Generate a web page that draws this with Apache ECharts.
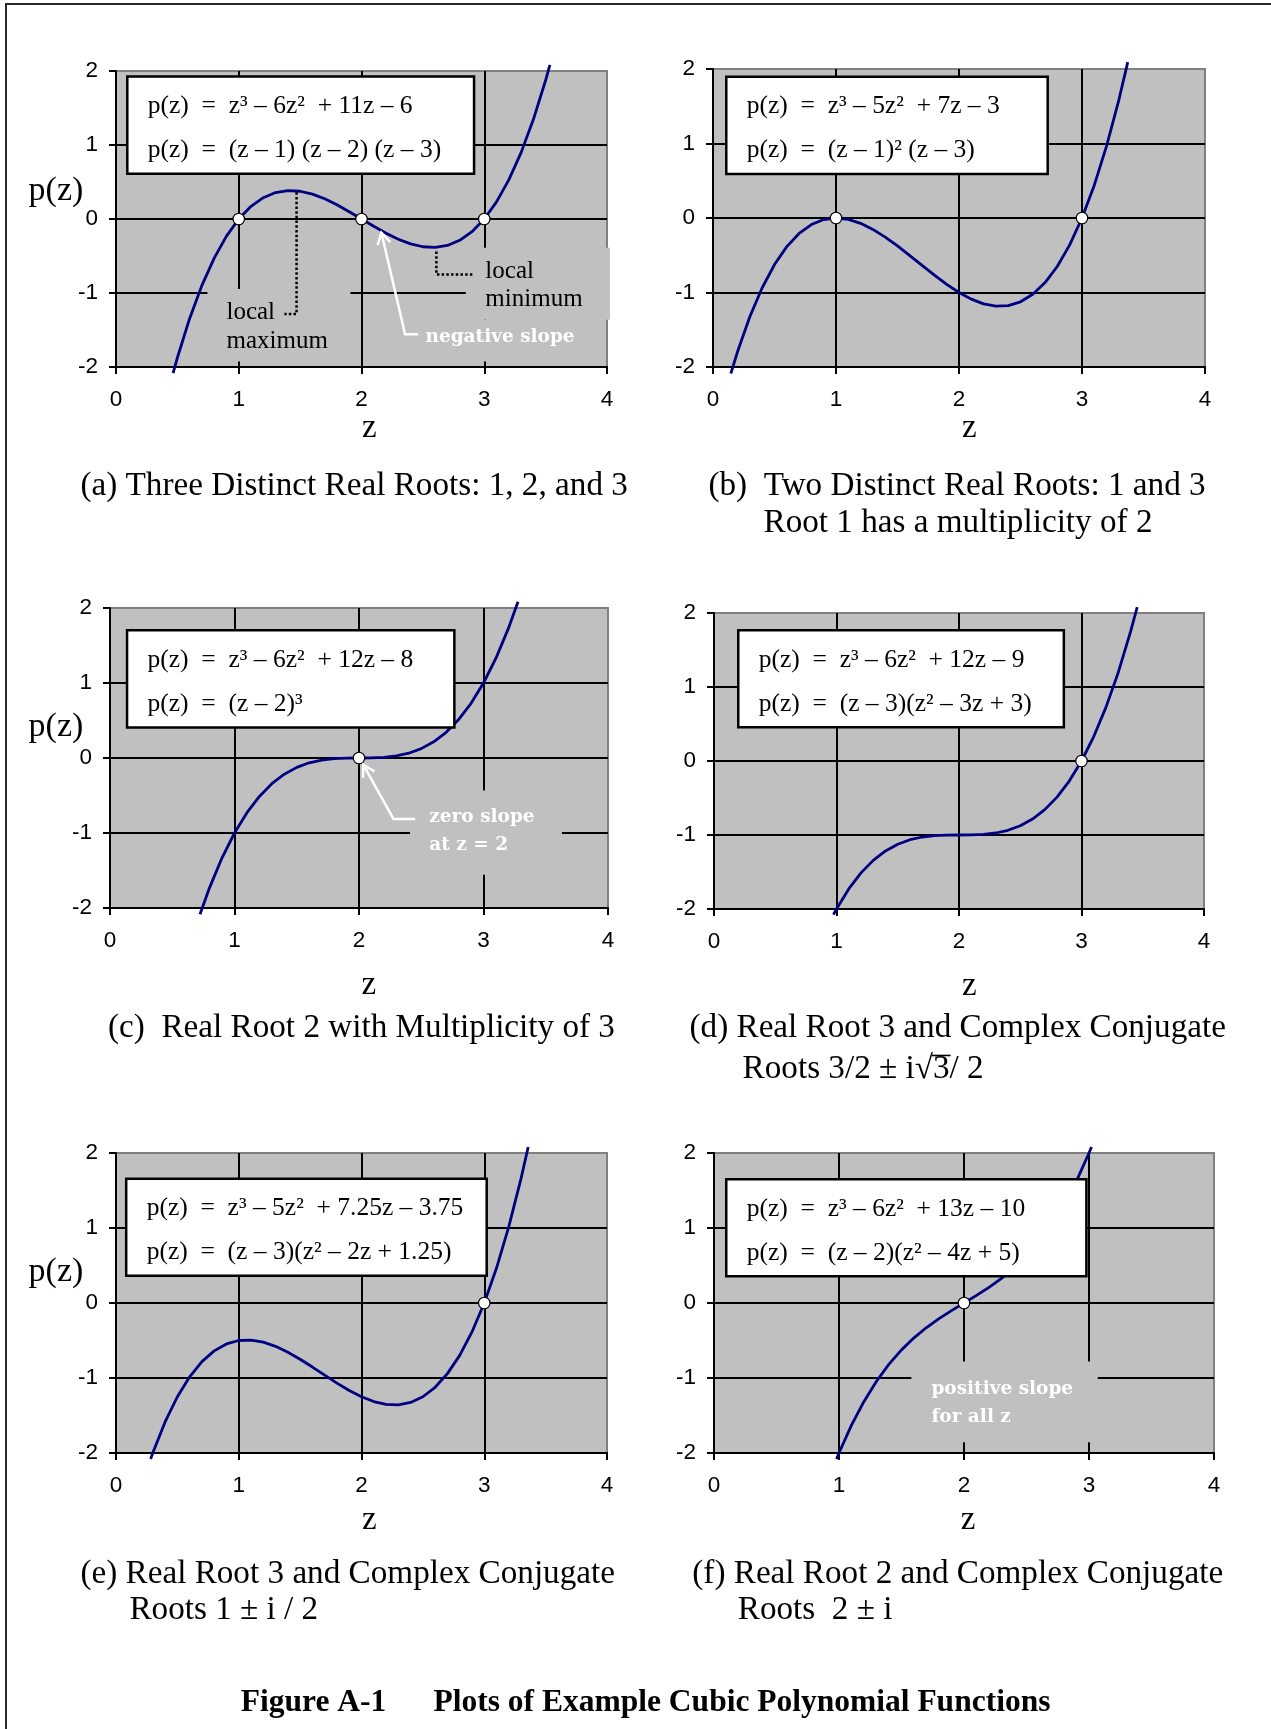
<!DOCTYPE html>
<html>
<head>
<meta charset="utf-8">
<script src="https://cdn.jsdelivr.net/npm/echarts@6/dist/echarts.min.js"></script>
<style>
  html, body { margin: 0; padding: 0; background: #ffffff; }
  #main { width: 1271px; height: 1729px; }
</style>
</head>
<body>
<div id="main"></div>
<script>
// ---------- axis ranges and tick labels (same for every panel) ----------
const zRange = [0, 4];
const pRange = [-2, 2];
const zTickStep = 1;
const pTickStep = 1;
const zTicks = ['0', '1', '2', '3', '4'];
const pTicks = ['-2', '-1', '0', '1', '2'];

// ---------- sampled polynomial curves ----------
// (a) p(z) = (z-1)(z-2)(z-3)
const zA = [0.465, 0.5, 0.6, 0.7, 0.8, 0.9, 1.0, 1.1, 1.2, 1.3, 1.4, 1.5, 1.6, 1.7, 1.8, 1.9, 2.0,
            2.1, 2.2, 2.3, 2.4, 2.5, 2.6, 2.7, 2.8, 2.9, 3.0, 3.1, 3.2, 3.3, 3.4, 3.5, 3.535];
const pA = [-2.082, -1.875, -1.344, -0.897, -0.528, -0.231, 0, 0.171, 0.288, 0.357, 0.384, 0.375, 0.336, 0.273, 0.192, 0.099, 0,
            -0.099, -0.192, -0.273, -0.336, -0.375, -0.384, -0.357, -0.288, -0.171, 0, 0.231, 0.528, 0.897, 1.344, 1.875, 2.082];
// (b) p(z) = (z-1)^2 (z-3)
const zB = [0.145, 0.2, 0.3, 0.4, 0.5, 0.6, 0.7, 0.8, 0.9, 1.0, 1.1, 1.2, 1.3, 1.4, 1.5, 1.6, 1.7,
            1.8, 1.9, 2.0, 2.1, 2.2, 2.3, 2.4, 2.5, 2.6, 2.7, 2.8, 2.9, 3.0, 3.1, 3.2, 3.3, 3.372];
const pB = [-2.087, -1.792, -1.323, -0.936, -0.625, -0.384, -0.207, -0.088, -0.021, 0, -0.019, -0.072, -0.153, -0.256, -0.375, -0.504, -0.637,
            -0.768, -0.891, -1, -1.089, -1.152, -1.183, -1.176, -1.125, -1.024, -0.867, -0.648, -0.361, 0, 0.441, 0.968, 1.587, 2.093];
// (c) p(z) = (z-2)^3
const zC = [0.723, 0.8, 0.9, 1.0, 1.1, 1.2, 1.3, 1.4, 1.5, 1.6, 1.7, 1.8, 1.9, 2.0,
            2.1, 2.2, 2.3, 2.4, 2.5, 2.6, 2.7, 2.8, 2.9, 3.0, 3.1, 3.2, 3.277];
const pC = [-2.082, -1.728, -1.331, -1, -0.729, -0.512, -0.343, -0.216, -0.125, -0.064, -0.027, -0.008, -0.001, 0,
            0.001, 0.008, 0.027, 0.064, 0.125, 0.216, 0.343, 0.512, 0.729, 1, 1.331, 1.728, 2.082];
// (d) p(z) = (z-3)(z^2-3z+3)
const zD = [0.975, 1.0, 1.1, 1.2, 1.3, 1.4, 1.5, 1.6, 1.7, 1.8, 1.9, 2.0, 2.1, 2.2,
            2.3, 2.4, 2.5, 2.6, 2.7, 2.8, 2.9, 3.0, 3.1, 3.2, 3.3, 3.4, 3.455];
const pD = [-2.077, -2, -1.729, -1.512, -1.343, -1.216, -1.125, -1.064, -1.027, -1.008, -1.001, -1, -0.999, -0.992,
            -0.973, -0.936, -0.875, -0.784, -0.657, -0.488, -0.271, 0, 0.331, 0.728, 1.197, 1.744, 2.080];
// (e) p(z) = (z-3)(z^2-2z+1.25)
const zE = [0.282, 0.3, 0.4, 0.5, 0.6, 0.7, 0.8, 0.9, 1.0, 1.1, 1.2, 1.3, 1.4, 1.5, 1.6, 1.7, 1.8,
            1.9, 2.0, 2.1, 2.2, 2.3, 2.4, 2.5, 2.6, 2.7, 2.8, 2.9, 3.0, 3.1, 3.2, 3.3, 3.358];
const pE = [-2.081, -1.998, -1.586, -1.25, -0.984, -0.782, -0.638, -0.546, -0.5, -0.494, -0.522, -0.578, -0.656, -0.75, -0.854, -0.962, -1.068,
            -1.166, -1.25, -1.314, -1.352, -1.358, -1.326, -1.25, -1.124, -0.942, -0.698, -0.386, 0, 0.466, 1.018, 1.662, 2.080];
// (f) p(z) = (z-2)(z^2-4z+5)
const zF = [0.98, 1.0, 1.1, 1.2, 1.3, 1.4, 1.5, 1.6, 1.7, 1.8, 1.9, 2.0,
            2.1, 2.2, 2.3, 2.4, 2.5, 2.6, 2.7, 2.8, 2.9, 3.0, 3.02];
const pF = [-2.081, -2, -1.629, -1.312, -1.043, -0.816, -0.625, -0.464, -0.327, -0.208, -0.101, 0,
            0.101, 0.208, 0.327, 0.464, 0.625, 0.816, 1.043, 1.312, 1.629, 2, 2.081];

// ---------- real roots (marked with open circles) ----------
const rootsA = [1, 2, 3];
const rootsB = [1, 3];
const rootsC = [2];
const rootsD = [3];
const rootsE = [3];
const rootsF = [2];

// ---------- equation boxes ----------
const eqA = ['p(z)  =  z³ – 6z²  + 11z – 6', 'p(z)  =  (z – 1) (z – 2) (z – 3)'];
const eqB = ['p(z)  =  z³ – 5z²  + 7z – 3', 'p(z)  =  (z – 1)² (z – 3)'];
const eqC = ['p(z)  =  z³ – 6z²  + 12z – 8', 'p(z)  =  (z – 2)³'];
const eqD = ['p(z)  =  z³ – 6z²  + 12z – 9', 'p(z)  =  (z – 3)(z² – 3z + 3)'];
const eqE = ['p(z)  =  z³ – 5z²  + 7.25z – 3.75', 'p(z)  =  (z – 3)(z² – 2z + 1.25)'];
const eqF = ['p(z)  =  z³ – 6z²  + 13z – 10', 'p(z)  =  (z – 2)(z² – 4z + 5)'];

// ---------- captions ----------
const capA = ['(a) Three Distinct Real Roots: 1, 2, and 3'];
const capB = ['(b)  Two Distinct Real Roots: 1 and 3', 'Root 1 has a multiplicity of 2'];
const capC = ['(c)  Real Root 2 with Multiplicity of 3'];
const capD = ['(d) Real Root 3 and Complex Conjugate', ['Roots 3/2 ± i√', '3', '/ 2']];
const capE = ['(e) Real Root 3 and Complex Conjugate', 'Roots 1 ± i / 2'];
const capF = ['(f) Real Root 2 and Complex Conjugate', 'Roots  2 ± i'];
const figureLabel = 'Figure A-1';
const figureTitle = 'Plots of Example Cubic Polynomial Functions';
const zAxisName = 'z';
const pAxisName = 'p(z)';

// ---------- fonts & colours ----------
const SERIF = '"Liberation Serif", "Times New Roman", serif';
const SANS = '"Liberation Sans", Arial, sans-serif';
const SLAB = '"DejaVu Serif", serif';
const PLOT_BG = '#c0c0c0';
const CURVE = '#000080';

// ---------- panel layout ----------
const panels = [
  { grid: { left: 116, top: 71, width: 491, height: 296 }, z: zA, p: pA, roots: rootsA, eq: eqA,
    eqBox: [0.092, 1.926, 2.917, 0.612], zName: [369.4, 439.3], pName: 202.5,
    covers: [[0.745, -0.946, 1.91, -1.925], [2.85, -0.39, 4.024, -1.36], [2.4, -1.36, 3.85, -1.925]],
    dotted: [[[1.471, 0.36], [1.471, -1.284], [1.372, -1.284]], [[2.61, -0.44], [2.61, -0.75], [2.91, -0.75]]],
    darkText: [['local', 0.9, -1.384], ['maximum', 0.9, -1.766], ['local', 3.009, -0.83], ['minimum', 3.009, -1.203]],
    whiteText: [['negative slope', 2.521, -1.685]],
    arrows: [[[2.162, -0.184], [2.355, -1.558], [2.462, -1.558]]] },
  { grid: { left: 713, top: 69, width: 492, height: 298 }, z: zB, p: pB, roots: rootsB, eq: eqB,
    eqBox: [0.108, 1.895, 2.721, 0.59], zName: [969.2, 439.3], pName: null,
    covers: [], dotted: [], darkText: [], whiteText: [], arrows: [] },
  { grid: { left: 110, top: 608, width: 498, height: 300 }, z: zC, p: pC, roots: rootsC, eq: eqC,
    eqBox: [0.137, 1.703, 2.766, 0.408], zName: [368.8, 996.7], pName: 738.3,
    covers: [[2.41, -0.432, 3.63, -1.556]], dotted: [], darkText: [],
    whiteText: [['zero slope', 2.565, -0.876], ['at z = 2', 2.565, -1.245]],
    arrows: [[[2.034, -0.089], [2.277, -0.813], [2.451, -0.813]]] },
  { grid: { left: 714, top: 613, width: 490, height: 296 }, z: zD, p: pD, roots: rootsD, eq: eqD,
    eqBox: [0.198, 1.768, 2.856, 0.455], zName: [969.2, 997.3], pName: null,
    covers: [], dotted: [], darkText: [], whiteText: [], arrows: [] },
  { grid: { left: 116, top: 1153, width: 491, height: 300 }, z: zE, p: pE, roots: rootsE, eq: eqE,
    eqBox: [0.083, 1.656, 3.02, 0.364], zName: [369.4, 1531.2], pName: 1283.6,
    covers: [], dotted: [], darkText: [], whiteText: [], arrows: [] },
  { grid: { left: 714, top: 1153, width: 500, height: 300 }, z: zF, p: pF, roots: rootsF, eq: eqF,
    eqBox: [0.098, 1.65, 2.979, 0.357], zName: [968, 1531.2], pName: null,
    covers: [[1.579, -0.78, 3.07, -1.855]], dotted: [], darkText: [],
    whiteText: [['positive slope', 1.739, -1.24], ['for all z', 1.739, -1.603]],
    arrows: [] }
];

// caption placement: [text, left x, baseline y]
const captionPlacement = [
  [capA[0], 80.4, 497.1],
  [capB[0], 708.4, 497.1], [capB[1], 763.5, 534.6],
  [capC[0], 108, 1039.3],
  [capD[0], 689.5, 1039.3],
  [capE[0], 80.4, 1585.4], [capE[1], 129.4, 1621.5],
  [capF[0], 692.3, 1585.4], [capF[1], 737.8, 1621.5]
];

const chart = echarts.init(document.getElementById('main'), null, { renderer: 'canvas' });

function axisDef(i, range, step) {
  return {
    type: 'value', gridIndex: i, min: range[0], max: range[1], interval: step,
    axisLine: { show: true, onZero: false, lineStyle: { color: '#000', width: 2 } },
    axisTick: { show: true, inside: false, length: 7, lineStyle: { color: '#000', width: 2 } },
    splitLine: { show: true, showMinLine: false, showMaxLine: false, lineStyle: { color: '#000', width: 2 } },
    axisLabel: { show: false }
  };
}

const option = {
  animation: false,
  backgroundColor: '#ffffff',
  grid: panels.map(pn => Object.assign({
    show: true, backgroundColor: PLOT_BG, borderColor: '#808080', borderWidth: 2
  }, pn.grid)),
  xAxis: panels.map((pn, i) => axisDef(i, zRange, zTickStep)),
  yAxis: panels.map((pn, i) => axisDef(i, pRange, pTickStep)),
  series: []
};

panels.forEach((pn, i) => {
  option.series.push({
    type: 'line', xAxisIndex: i, yAxisIndex: i,
    data: pn.z.map((z, k) => [z, pn.p[k]]),
    showSymbol: false, clip: false, z: 3,
    lineStyle: { color: CURVE, width: 2.8 }
  });
  option.series.push({
    type: 'scatter', xAxisIndex: i, yAxisIndex: i,
    data: pn.roots.map(r => [r, 0]),
    symbol: 'circle', symbolSize: 11.5, z: 4,
    itemStyle: { color: '#ffffff', borderColor: '#000', borderWidth: 1.2, opacity: 1 }
  });
});

chart.setOption(option);

// ---------- annotations, placed through each grid's own scales ----------
const measureCtx = document.createElement('canvas').getContext('2d');
function textWidth(str, font) { measureCtx.font = font; return measureCtx.measureText(str).width; }

// baseline-positioned text (zrender draws with a middle baseline)
function txt(str, x, baseline, size, family, opts) {
  opts = opts || {};
  const k = family === SLAB ? 0.346 : 0.34;
  return {
    type: 'text', silent: true, z: opts.z || 20,
    x: x, y: baseline - k * size,
    style: {
      text: str, fill: opts.fill || '#000',
      font: (opts.weight || 'normal') + ' ' + size + 'px ' + family,
      align: opts.align || 'left', verticalAlign: 'middle'
    }
  };
}
// centred text
function ctxt(str, x, y, size, family, align) {
  return {
    type: 'text', silent: true, z: 20, x: x, y: y,
    style: { text: str, fill: '#000', font: 'normal ' + size + 'px ' + family,
             align: align, verticalAlign: 'middle' }
  };
}

const elements = [];

// figure frame
elements.push({ type: 'rect', silent: true, z: 1,
  shape: { x: 6, y: 4, width: 1400, height: 1900 },
  style: { fill: null, stroke: '#2b2b2b', lineWidth: 2 } });

const TICK_FONT = 22.5;

panels.forEach((pn, i) => {
  const P = (z, p) => chart.convertToPixel({ gridIndex: i }, [z, p]);

  // tick labels
  zTicks.forEach(t => {
    const q = P(Number(t), pRange[0]);
    elements.push(ctxt(t, q[0], q[1] + 33, TICK_FONT, SANS, 'center'));
  });
  pTicks.forEach(t => {
    const q = P(zRange[0], Number(t));
    elements.push(ctxt(t, q[0] - 18, q[1], TICK_FONT, SANS, 'right'));
  });

  // grey patches behind the annotation texts
  pn.covers.forEach(c => {
    const a = P(c[0], c[1]), b = P(c[2], c[3]);
    elements.push({ type: 'rect', silent: true, z: 5,
      shape: { x: a[0], y: a[1], width: b[0] - a[0], height: b[1] - a[1] },
      style: { fill: PLOT_BG, stroke: null } });
  });

  // dotted leader lines
  pn.dotted.forEach(pts => {
    elements.push({ type: 'polyline', silent: true, z: 6,
      shape: { points: pts.map(q => P(q[0], q[1])) },
      style: { stroke: '#000', lineWidth: 2.5, lineDash: [2.5, 2.2], fill: null } });
  });

  // white arrows
  pn.arrows.forEach(pts => {
    const px = pts.map(q => P(q[0], q[1]));
    elements.push({ type: 'polyline', silent: true, z: 6,
      shape: { points: px }, style: { stroke: '#ffffff', lineWidth: 2.5, fill: null } });
    const tip = px[0], nxt = px[1];
    const dx = nxt[0] - tip[0], dy = nxt[1] - tip[1], len = Math.hypot(dx, dy);
    const ux = dx / len, uy = dy / len, ang = 30 * Math.PI / 180, L = 13;
    const w1 = [tip[0] + L * (ux * Math.cos(ang) - uy * Math.sin(ang)), tip[1] + L * (ux * Math.sin(ang) + uy * Math.cos(ang))];
    const w2 = [tip[0] + L * (ux * Math.cos(-ang) - uy * Math.sin(-ang)), tip[1] + L * (ux * Math.sin(-ang) + uy * Math.cos(-ang))];
    elements.push({ type: 'polyline', silent: true, z: 6,
      shape: { points: [w1, tip, w2] }, style: { stroke: '#ffffff', lineWidth: 2.5, fill: null } });
  });

  pn.darkText.forEach(t => {
    const q = P(t[1], t[2]);
    elements.push(txt(t[0], q[0], q[1], 25, SERIF));
  });
  pn.whiteText.forEach(t => {
    const q = P(t[1], t[2]);
    elements.push(txt(t[0], q[0], q[1], 18.5, SLAB, { fill: '#ffffff', weight: 'bold' }));
  });

  // equation box
  const tl = P(pn.eqBox[0], pn.eqBox[1]), br = P(pn.eqBox[2], pn.eqBox[3]);
  elements.push({ type: 'rect', silent: true, z: 10,
    shape: { x: tl[0], y: tl[1], width: br[0] - tl[0], height: br[1] - tl[1] },
    style: { fill: '#ffffff', stroke: '#000', lineWidth: 2.5 } });
  elements.push(txt(pn.eq[0], tl[0] + 20.5, tl[1] + 38.3, 25.5, SERIF, { z: 11 }));
  elements.push(txt(pn.eq[1], tl[0] + 20.5, tl[1] + 82.6, 25.5, SERIF, { z: 11 }));

  // axis titles
  elements.push(txt(zAxisName, pn.zName[0], pn.zName[1], 33, SERIF, { align: 'center' }));
  if (pn.pName !== null) elements.push(txt(pAxisName, 28.6, pn.pName, 34, SERIF));
});

// captions
const CAP = 33.2;
captionPlacement.forEach(c => elements.push(txt(c[0], c[1], c[2], CAP, SERIF)));

// caption (d) second line with the radical bar over 3
(function () {
  const parts = capD[1], x0 = 742.6, base = 1080.7;
  const font = 'normal ' + CAP + 'px ' + SERIF;
  elements.push(txt(parts.join(''), x0, base, CAP, SERIF));
  const w0 = textWidth(parts[0], font), w1 = textWidth(parts[1], font);
  const yBar = base - 0.76 * CAP;
  elements.push({ type: 'line', silent: true, z: 20,
    shape: { x1: x0 + w0 - 1, y1: yBar, x2: x0 + w0 + w1 + 1, y2: yBar },
    style: { stroke: '#000', lineWidth: 1.6 } });
})();

// figure title
elements.push(txt(figureLabel, 240.8, 1713.7, 31.5, SERIF, { weight: 'bold' }));
elements.push(txt(figureTitle, 433.5, 1713.7, 31.5, SERIF, { weight: 'bold' }));

chart.setOption({ graphic: { elements: elements } });
</script>
</body>
</html>
